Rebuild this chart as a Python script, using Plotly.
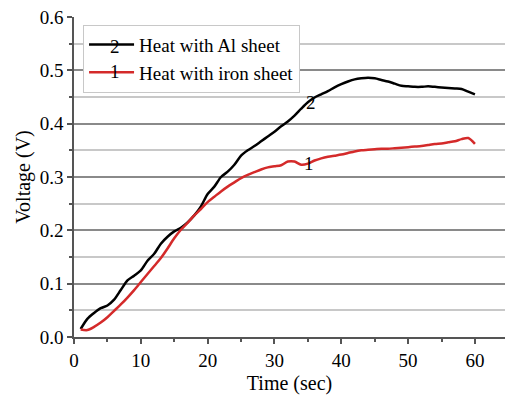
import plotly.graph_objects as go

time_s = list(range(1, 61))
al_sheet = [0.015, 0.034, 0.045, 0.054, 0.059, 0.07, 0.088, 0.106, 0.115, 0.125,
            0.143, 0.156, 0.175, 0.188, 0.198, 0.205, 0.215, 0.228, 0.245, 0.268,
            0.282, 0.3, 0.31, 0.323, 0.34, 0.35, 0.358, 0.367, 0.376, 0.385,
            0.395, 0.404, 0.415, 0.428, 0.44, 0.449, 0.455, 0.461, 0.468, 0.474,
            0.479, 0.483, 0.485, 0.486, 0.485, 0.482, 0.479, 0.475, 0.471, 0.47,
            0.469, 0.469, 0.47, 0.469, 0.468, 0.467, 0.466, 0.465, 0.46, 0.455]
iron_sheet = [0.014, 0.013, 0.019, 0.027, 0.037, 0.049, 0.061, 0.074, 0.088, 0.103,
              0.118, 0.133, 0.148, 0.166, 0.185, 0.201, 0.214, 0.228, 0.24, 0.253,
              0.263, 0.273, 0.282, 0.29, 0.298, 0.304, 0.309, 0.314, 0.318, 0.32,
              0.322, 0.329, 0.329, 0.323, 0.325, 0.331, 0.335, 0.338, 0.34, 0.342,
              0.345, 0.348, 0.35, 0.351, 0.352, 0.353, 0.353, 0.354, 0.355, 0.356,
              0.357, 0.358, 0.36, 0.362, 0.363, 0.365, 0.367, 0.371, 0.373, 0.362]

series_names = ["Heat with Al sheet", "Heat with iron sheet"]
series_tags = ["2", "1"]
tag_points = [(35.4, 0.44), (35.1, 0.325)]
x_ticks = [0, 10, 20, 30, 40, 50, 60]
y_ticks = [0.0, 0.1, 0.2, 0.3, 0.4, 0.5, 0.6]
y_ticklabels = ["0.0", "0.1", "0.2", "0.3", "0.4", "0.5", "0.6"]

FONT = "'Liberation Serif', 'Times New Roman', 'DejaVu Serif', serif"
FS = 19
TICK_FS = 19
TITLE_FS = 20
fig = go.Figure()
fig.add_trace(go.Scatter(x=time_s, y=al_sheet, mode="lines", name=series_names[0],
                         line=dict(color="black", width=2.5, shape="spline", smoothing=0.8)))
fig.add_trace(go.Scatter(x=time_s, y=iron_sheet, mode="lines", name=series_names[1],
                         line=dict(color="#d42a2a", width=2.5, shape="spline", smoothing=0.8)))

for tag, (tx, ty) in zip(series_tags, tag_points):
    fig.add_annotation(x=tx, y=ty, text=tag, showarrow=False,
                       font=dict(family=FONT, size=FS, color="black"))

# numbers on legend samples
for tag, py in zip(series_tags, [0.948, 0.870]):
    fig.add_annotation(xref="paper", yref="paper", x=0.078, y=py, text=tag, showarrow=False,
                       font=dict(family=FONT, size=FS, color="black"))

axis_common = dict(showline=True, linecolor="#555", linewidth=1.5, ticks="outside",
                   ticklen=5, tickwidth=1.5, tickcolor="#555", zeroline=False,
                   tickfont=dict(family=FONT, size=TICK_FS, color="black"))

fig.update_xaxes(range=[0, 64.5], tickvals=x_ticks, showgrid=False,
                 minor=dict(dtick=5, ticks="outside", ticklen=3, tickcolor="#555", showgrid=False),
                 title=dict(text="Time (sec)", font=dict(family=FONT, size=TITLE_FS, color="black"), standoff=6),
                 **axis_common)
fig.update_yaxes(range=[0, 0.6], tickvals=y_ticks, ticktext=y_ticklabels, showgrid=True,
                 gridcolor="#8a8a8a", gridwidth=1.5,
                 minor=dict(dtick=0.05, ticks="outside", ticklen=3, tickcolor="#555",
                            showgrid=True, gridcolor="#c8c8c8", gridwidth=1.5),
                 title=dict(text="Voltage (V)", font=dict(family=FONT, size=TITLE_FS, color="black"), standoff=4),
                 **axis_common)

fig.update_layout(width=505, height=395, margin=dict(l=74, r=0, t=17, b=58),
                  plot_bgcolor="white", paper_bgcolor="white",
                  legend=dict(x=0.021, y=0.976, xanchor="left", yanchor="top",
                              bgcolor="white", bordercolor="#c8c8c8", borderwidth=1,
                              font=dict(family=FONT, size=FS, color="black"),
                              itemwidth=45, tracegroupgap=0))
fig.write_html("out.html")
